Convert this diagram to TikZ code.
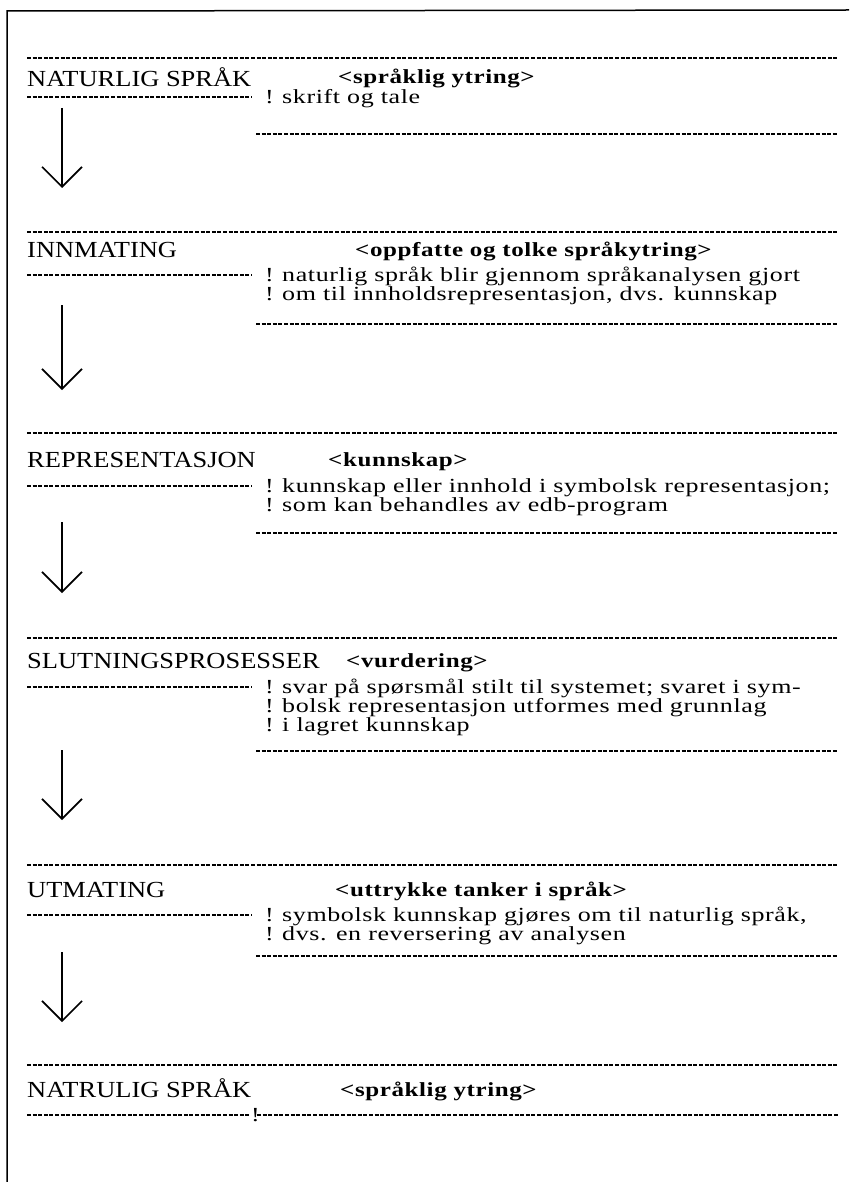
\documentclass[tikz,border=0pt]{standalone}
\usepackage{fontspec}
\setmainfont{Liberation Serif}
\newfontfamily\lblfont{Liberation Serif}[FakeStretch=1.15]
\newfontfamily\bodyfont{Liberation Serif}[FakeStretch=1.3, LetterSpace=3]
\newfontfamily\hdrfont{Liberation Serif}[FakeStretch=1.25, LetterSpace=3]
\usetikzlibrary{arrows.meta}
\begin{document}
\begin{tikzpicture}[x=1pt,y=-1pt,
  frame/.style={line width=1.5pt},
  dline/.style={line width=1.2pt, dash pattern=on 4pt off 1.6pt},
  lbl/.style={anchor=base west, inner sep=0pt, font=\lblfont\fontsize{23}{24}\selectfont},
  hdr/.style={anchor=base west, inner sep=0pt, font=\hdrfont\fontsize{20}{20}\selectfont\bfseries},
  body/.style={anchor=base west, inner sep=0pt, font=\bodyfont\fontsize{20}{19}\selectfont},
  bang/.style={anchor=base west, inner sep=0pt, font=\bodyfont\fontsize{20}{19}\selectfont},
  flow/.style={line width=1.6pt, -{Straight Barb[length=20pt,width=40pt,line width=1.6pt]}}
]
\useasboundingbox (0,0) rectangle (849,1182);
% frame
\coordinate (ftl) at (7,11);
\coordinate (ftr) at (849,10);
\coordinate (fbl) at (7,1182);
\draw[frame] (ftr) -- (ftl) -- (fbl);

% ---------- section 1
\coordinate (s1tl) at (27,58);  \coordinate (s1tr) at (838,58);
\draw[dline] (s1tl) -- (s1tr);
\node[lbl] (s1lbl) at (27,87) {NATURLIG SPRÅK};
\node[hdr] (s1hdr) at (338,84) {<språklig ytring>};
\coordinate (s1dl) at (27,97);  \coordinate (s1dr) at (252,97);
\draw[dline] (s1dl) -- (s1dr);
\node[bang] (s1b1) at (265,104) {!};
\node[body] (s1t1) at (282,104) {skrift og tale};
\coordinate (s1ll) at (256,134); \coordinate (s1lr) at (838,134);
\draw[dline] (s1ll) -- (s1lr);
\coordinate (a1s) at (62,108); \coordinate (a1e) at (62,188);
\draw[flow] (a1s) -- (a1e);

% ---------- section 2
\coordinate (s2tl) at (27,232);  \coordinate (s2tr) at (838,232);
\draw[dline] (s2tl) -- (s2tr);
\node[lbl] (s2lbl) at (27,257) {INNMATING};
\node[hdr] (s2hdr) at (355,256) {<oppfatte og tolke språkytring>};
\coordinate (s2dl) at (27,275);  \coordinate (s2dr) at (252,275);
\draw[dline] (s2dl) -- (s2dr);
\node[bang] (s2b1) at (265,281) {!};
\node[body] (s2t1) at (282,281) {naturlig språk blir gjennom språkanalysen gjort};
\node[bang] (s2b2) at (265,300) {!};
\node[body] (s2t2) at (282,300) {om til innholdsrepresentasjon, dvs. kunnskap};
\coordinate (s2ll) at (256,324); \coordinate (s2lr) at (838,324);
\draw[dline] (s2ll) -- (s2lr);
\coordinate (a2s) at (62,305); \coordinate (a2e) at (62,390);
\draw[flow] (a2s) -- (a2e);

% ---------- section 3
\coordinate (s3tl) at (27,433);  \coordinate (s3tr) at (838,433);
\draw[dline] (s3tl) -- (s3tr);
\node[lbl] (s3lbl) at (27,467) {REPRESENTASJON};
\node[hdr] (s3hdr) at (328,466) {<kunnskap>};
\coordinate (s3dl) at (27,486);  \coordinate (s3dr) at (252,486);
\draw[dline] (s3dl) -- (s3dr);
\node[bang] (s3b1) at (265,492) {!};
\node[body] (s3t1) at (282,492) {kunnskap eller innhold i symbolsk representasjon;};
\node[bang] (s3b2) at (265,511) {!};
\node[body] (s3t2) at (282,511) {som kan behandles av edb-program};
\coordinate (s3ll) at (256,533); \coordinate (s3lr) at (838,533);
\draw[dline] (s3ll) -- (s3lr);
\coordinate (a3s) at (62,522); \coordinate (a3e) at (62,593);
\draw[flow] (a3s) -- (a3e);

% ---------- section 4
\coordinate (s4tl) at (27,638);  \coordinate (s4tr) at (838,638);
\draw[dline] (s4tl) -- (s4tr);
\node[lbl] (s4lbl) at (27,668) {SLUTNINGSPROSESSER};
\node[hdr] (s4hdr) at (346,667) {<vurdering>};
\coordinate (s4dl) at (27,687);  \coordinate (s4dr) at (252,687);
\draw[dline] (s4dl) -- (s4dr);
\node[bang] (s4b1) at (265,693) {!};
\node[body] (s4t1) at (282,693) {svar på spørsmål stilt til systemet; svaret i sym-};
\node[bang] (s4b2) at (265,712) {!};
\node[body] (s4t2) at (282,712) {bolsk representasjon utformes med grunnlag};
\node[bang] (s4b3) at (265,731) {!};
\node[body] (s4t3) at (282,731) {i lagret kunnskap};
\coordinate (s4ll) at (256,751); \coordinate (s4lr) at (838,751);
\draw[dline] (s4ll) -- (s4lr);
\coordinate (a4s) at (62,750); \coordinate (a4e) at (62,820);
\draw[flow] (a4s) -- (a4e);

% ---------- section 5
\coordinate (s5tl) at (27,865);  \coordinate (s5tr) at (838,865);
\draw[dline] (s5tl) -- (s5tr);
\node[lbl] (s5lbl) at (27,897) {UTMATING};
\node[hdr] (s5hdr) at (335,896) {<uttrykke tanker i språk>};
\coordinate (s5dl) at (27,915);  \coordinate (s5dr) at (252,915);
\draw[dline] (s5dl) -- (s5dr);
\node[bang] (s5b1) at (265,921) {!};
\node[body] (s5t1) at (282,921) {symbolsk kunnskap gjøres om til naturlig språk,};
\node[bang] (s5b2) at (265,940) {!};
\node[body] (s5t2) at (282,940) {dvs. en reversering av analysen};
\coordinate (s5ll) at (256,956); \coordinate (s5lr) at (838,956);
\draw[dline] (s5ll) -- (s5lr);
\coordinate (a5s) at (62,952); \coordinate (a5e) at (62,1022);
\draw[flow] (a5s) -- (a5e);

% ---------- section 6
\coordinate (s6tl) at (27,1065);  \coordinate (s6tr) at (838,1065);
\draw[dline] (s6tl) -- (s6tr);
\node[lbl] (s6lbl) at (27,1097) {NATRULIG SPRÅK};
\node[hdr] (s6hdr) at (340,1096) {<språklig ytring>};
\coordinate (s6dl) at (27,1115);  \coordinate (s6dr) at (250,1115);
\draw[dline] (s6dl) -- (s6dr);
\node[bang] (s6b1) at (251,1121) {!};
\coordinate (s6ll) at (257,1115); \coordinate (s6lr) at (838,1115);
\draw[dline] (s6ll) -- (s6lr);
\end{tikzpicture}
\end{document}
